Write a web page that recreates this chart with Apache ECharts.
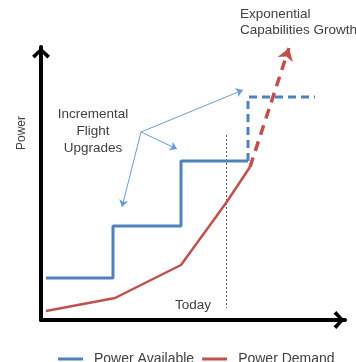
<!DOCTYPE html>
<html><head><meta charset="utf-8">
<script src="https://cdn.jsdelivr.net/npm/echarts@6/dist/echarts.min.js"></script>
<style>html,body{margin:0;padding:0;background:#fff}#c{width:356px;height:362px}</style>
</head><body><div id="c"></div>
<script>
// Values in arbitrary chart units (time along x, power along y)
const availableSolid = [[5,42],[72,42],[72,94],[140,94],[140,159],[207,159]];
const availableProjected = [[207,159],[207,223],[274,223]];
const demandSolid = [[5,9],[74,22],[140,55],[185,117],[209,153]];
const demandProjected = [[209,153],[248,272]];
const todayLine = [[185,185],[185,12]];
const calloutOrigin = [100,188];
const calloutTargets = [[202,230],[136,171],[81,113]];
const legendNames = ['Power Available','Power Demand'];

const BLUE = '#4f81bd', RED = '#c0504d', LIGHTBLUE = '#6a9bd8', TXT = '#404040';
const FONT = 'Liberation Sans, Arial, sans-serif';
const chevron = 'path://M0,9 L10,0 L20,9 L17,12 L10,5 L3,12 Z';

const chart = echarts.init(document.getElementById('c'));
chart.setOption({
  animation: false,
  grid: {left: 41, right: 11, top: 47, bottom: 42},
  xAxis: {type: 'value', min: 0, max: 304, axisTick: {show:false}, axisLabel: {show:false}, splitLine: {show:false},
    axisLine: {show: true, lineStyle: {color: '#000', width: 4}, symbol: ['none', chevron], symbolSize: [18, 18], symbolOffset: [0, -6]}},
  yAxis: {type: 'value', min: 0, max: 273, axisTick: {show:false}, axisLabel: {show:false}, splitLine: {show:false},
    axisLine: {show: true, lineStyle: {color: '#000', width: 4}, symbol: ['none', chevron], symbolSize: [18, 18], symbolOffset: [0, -6]}},
  legend: {
    data: [{name: legendNames[0], icon: 'rect'}, {name: legendNames[1], icon: 'rect'}],
    left: 53, top: 347, itemWidth: 25, itemHeight: 3, itemGap: 8,
    textStyle: {color: TXT, fontSize: 14, fontFamily: FONT, padding: [0,0,0,6]}
  },
  graphic: [
    {type:'text', x:93, y:106, style:{text:'Incremental\nFlight\nUpgrades', align:'center', lineHeight:17, fill:TXT, font:'13.5px '+FONT}},
    {type:'text', x:240, y:6, style:{text:'Exponential\nCapabilities Growth', align:'left', lineHeight:16, fill:TXT, font:'13.5px '+FONT}},
    {type:'text', x:193, y:298, style:{text:'Today', align:'center', fill:TXT, font:'13.5px '+FONT}},
    {type:'text', x:22, y:133, rotation: Math.PI/2, style:{text:'Power', align:'center', verticalAlign:'middle', fill:TXT, font:'12px '+FONT}}
  ],
  series: [
    {name: legendNames[0], type:'line', data: availableSolid, symbol:'none', lineStyle:{color:BLUE, width:3}, itemStyle:{color:BLUE}},
    {name: 'Available projected', type:'line', data: availableProjected, symbol:'none', lineStyle:{color:BLUE, width:3, type:[8,5]}},
    {name: legendNames[1], type:'line', data: demandSolid, symbol:'none', lineStyle:{color:RED, width:2.5}, itemStyle:{color:RED}},
    {type:'lines', coordinateSystem:'cartesian2d', symbol:['none','arrow'], symbolSize:12,
      lineStyle:{color:RED, width:3.5, type:[10,7], opacity:1},
      data:[{coords: demandProjected}]},
    {type:'lines', coordinateSystem:'cartesian2d', symbol:['none','none'],
      lineStyle:{color:'#555', width:1, type:[2,2], opacity:1},
      data:[{coords: todayLine}]},
    {type:'lines', coordinateSystem:'cartesian2d', symbol:['none','arrow'], symbolSize:7,
      lineStyle:{color:LIGHTBLUE, width:1, opacity:1},
      data: calloutTargets.map(t => ({coords:[calloutOrigin, t]}))}
  ]
});
</script></body></html>
